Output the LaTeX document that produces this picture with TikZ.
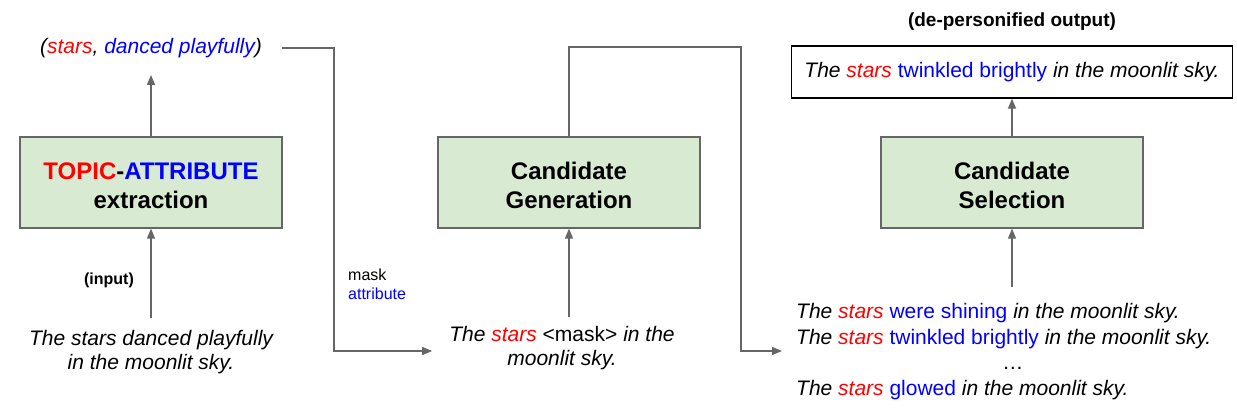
\documentclass[tikz,border=0pt]{standalone}
\usepackage{fontspec}
\setmainfont{Liberation Sans}
\usetikzlibrary{arrows.meta}
\definecolor{boxgreen}{HTML}{D9EAD3}
\definecolor{linegray}{HTML}{666666}
\definecolor{tred}{HTML}{FF0000}
\definecolor{tblue}{HTML}{0000FF}
\newcommand{\redw}[1]{\textcolor{tred}{#1}}
\newcommand{\bluew}[1]{\textcolor{tblue}{#1}}
\newcommand{\lift}{\rule{0pt}{23.5pt}}
\begin{document}
\begin{tikzpicture}[x=1pt,y=-1pt,
  stage/.style={draw=linegray, line width=1.2pt, fill=boxgreen, minimum width=262pt, minimum height=91pt, align=center, inner sep=0pt, font=\fontsize{24}{29}\selectfont\bfseries},
  conn/.style={draw=linegray, line width=1.3pt, -{Triangle[length=10pt,width=8pt]}},
  txt/.style={inner sep=0pt, align=center, font=\fontsize{21}{24}\selectfont},
  small/.style={inner sep=0pt, align=left, font=\fontsize{16}{19}\selectfont}]
\path[use as bounding box] (0,0) rectangle (1237,415);
% stages
\node[stage] (b1) at (151,182.5) {\lift\redw{TOPIC}-\bluew{ATTRIBUTE}\\extraction};
\node[stage] (b2) at (569,182.5) {\lift Candidate\\Generation};
\node[stage] (b3) at (1012,182.5) {\lift Candidate\\Selection};
% output
\node[draw=black, line width=1.3pt, minimum width=441pt, minimum height=52pt, inner sep=0pt, font=\fontsize{21}{24}\selectfont] (out) at (1012,72)
  {\textit{The \redw{stars}} \bluew{twinkled brightly} \textit{in the moonlit sky.}};
\node[inner sep=0pt, font=\fontsize{19}{22}\selectfont\bfseries] (deper) at (1012,22) {(de-personified output)};
% texts
\node[txt] (tuple) at (151,48) {\itshape(\redw{stars}, \bluew{danced playfully})};
\node[txt] (input) at (151,352) {\itshape The stars danced playfully\\\itshape in the moonlit sky.};
\node[inner sep=0pt, font=\fontsize{16}{19}\selectfont\bfseries] (inlab) at (109,280) {(input)};
\node[small, anchor=west] (masklab) at (348,284) {mask\\\bluew{attribute}};
\node[txt] (masked) at (562,348) {\textit{The \redw{stars}} <mask> \textit{in the}\\\textit{moonlit sky.}};
\node[inner sep=0pt, anchor=west, font=\fontsize{21}{25.5}\selectfont] (cand) at (796,352) {%
\begin{tabular}{@{}l@{}}
\textit{The \redw{stars}} \bluew{were shining} \textit{in the moonlit sky.}\\
\textit{The \redw{stars}} \bluew{twinkled brightly} \textit{in the moonlit sky.}\\
\multicolumn{1}{@{}c@{}}{\hspace*{18pt}…}\\
\textit{The \redw{stars}} \bluew{glowed} \textit{in the moonlit sky.}
\end{tabular}};
% coordinates
\coordinate (j1) at (334,48);
\coordinate (j2) at (334,351);
\coordinate (k2) at (741,47);
\coordinate (k3) at (741,351);
% connectors
\draw[conn, shorten >=17pt] (b1.north) -- (tuple.south);
\draw[conn, shorten <=12pt] (input.north) -- (b1.south);
\draw[conn] ([xshift=20pt]tuple.east) -- (j1) -- (j2) -- ([xshift=-17pt]masked.west |- j2);
\draw[conn, shorten <=9pt] (masked.north -| b2.south) -- (b2.south);
\draw[conn] (b2.north) |- (k2) -- (k3) -- ([xshift=-14pt]cand.west |- k3);
\draw[conn, shorten <=14pt] (cand.north -| b3.south) -- (b3.south);
\draw[conn] (b3.north) -- (out.south);
\end{tikzpicture}
\end{document}
